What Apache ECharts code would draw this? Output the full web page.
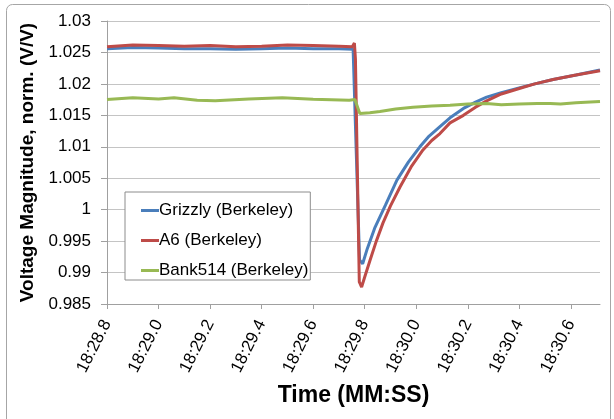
<!DOCTYPE html>
<html>
<head>
<meta charset="utf-8">
<script src="https://cdn.jsdelivr.net/npm/echarts@6/dist/echarts.min.js"></script>
<style>html,body{margin:0;padding:0;background:#fff}#c{width:614px;height:419px}</style>
</head>
<body>
<div id="c"></div>
<script>
// time in seconds after 18:28.0
const seriesNames = ['Grizzly (Berkeley)', 'A6 (Berkeley)', 'Bank514 (Berkeley)'];
const xTicks = [0.8, 1.0, 1.2, 1.4, 1.6, 1.8, 2.0, 2.2, 2.4, 2.6];
const yTicks = [0.985, 0.99, 0.995, 1, 1.005, 1.01, 1.015, 1.02, 1.025, 1.03];

const grizzlyT = [0.80, 0.90, 1.00, 1.10, 1.20, 1.30, 1.40, 1.50, 1.60, 1.70, 1.755, 1.762, 1.780, 1.792, 1.81, 1.84, 1.88, 1.925, 1.97, 2.014, 2.05, 2.092, 2.131, 2.183, 2.23, 2.273, 2.33, 2.403, 2.46, 2.531, 2.62, 2.713];
const grizzlyV = [1.0256, 1.0258, 1.0257, 1.0256, 1.0256, 1.0255, 1.0256, 1.0257, 1.0256, 1.0256, 1.0255, 1.0254, 0.9920, 0.9914, 0.9938, 0.9972, 1.0007, 1.0047, 1.0076, 1.0100, 1.0117, 1.0132, 1.0146, 1.0161, 1.0171, 1.0179, 1.0186, 1.0194, 1.0200, 1.0207, 1.0214, 1.0222];

const a6T = [0.80, 0.90, 1.00, 1.10, 1.20, 1.30, 1.40, 1.50, 1.60, 1.70, 1.752, 1.760, 1.764, 1.779, 1.788, 1.80, 1.821, 1.845, 1.871, 1.90, 1.937, 1.98, 2.026, 2.06, 2.092, 2.131, 2.183, 2.23, 2.273, 2.33, 2.403, 2.46, 2.531, 2.62, 2.713];
const a6V = [1.0259, 1.0262, 1.0261, 1.0260, 1.0261, 1.0259, 1.0260, 1.0262, 1.0261, 1.0260, 1.0259, 1.0265, 1.0240, 0.9885, 0.9877, 0.9893, 0.9920, 0.9950, 0.9979, 1.0006, 1.0036, 1.0068, 1.0095, 1.0110, 1.0121, 1.0138, 1.0150, 1.0163, 1.0173, 1.0184, 1.0193, 1.0200, 1.0207, 1.0214, 1.0221];

const bankT = [0.80, 0.90, 1.00, 1.06, 1.15, 1.22, 1.35, 1.48, 1.60, 1.74, 1.762, 1.781, 1.82, 1.859, 1.92, 1.987, 2.06, 2.131, 2.20, 2.273, 2.33, 2.40, 2.47, 2.52, 2.56, 2.62, 2.713];
const bankV = [1.0175, 1.0178, 1.0176, 1.0178, 1.0174, 1.0173, 1.0176, 1.0178, 1.01755, 1.0174, 1.0175, 1.0153, 1.0154, 1.0156, 1.0160, 1.0163, 1.0165, 1.0166, 1.0168, 1.0169, 1.0167, 1.0168, 1.0169, 1.0169, 1.0168, 1.0170, 1.0172];

const colors = ['#4a7ebb', '#be4b48', '#98b954'];
const zip = (t, v) => t.map((x, i) => [x, v[i]]);
const dataSets = [zip(grizzlyT, grizzlyV), zip(a6T, a6V), zip(bankT, bankV)];

const chart = echarts.init(document.getElementById('c'), null, {renderer: 'canvas'});
const FONT = '"Liberation Sans", Arial, sans-serif';
chart.setOption({
  animation: false,
  backgroundColor: '#fff',
  graphic: [{
    type: 'rect', shape: {x: 6.5, y: 4.5, width: 604, height: 430, r: 6},
    style: {fill: 'none', stroke: '#a6a6a6', lineWidth: 1}, z: 0, silent: true
  }],
  grid: {left: 107, right: 14, top: 21, bottom: 115, containLabel: false},
  xAxis: {
    type: 'value', min: 0.8, max: 2.713,
    name: 'Time (MM:SS)', nameLocation: 'middle', nameGap: 80,
    nameTextStyle: {fontFamily: FONT, fontWeight: 'bold', fontSize: 23, color: '#000'},
    axisLine: {show: true, lineStyle: {color: '#a0a0a0', width: 1}},
    axisTick: {show: true, length: 5, customValues: xTicks, lineStyle: {color: '#a0a0a0'}},
    splitLine: {show: false},
    axisLabel: {
      customValues: xTicks, rotate: 63, margin: 17, fontFamily: FONT, fontSize: 17, color: '#000',
      formatter: v => '18:' + (28 + v).toFixed(1)
    }
  },
  yAxis: {
    type: 'value', min: 0.985, max: 1.03, interval: 0.005,
    name: 'Voltage Magnitude, norm. (V/V)', nameLocation: 'middle', nameGap: 62,
    nameTextStyle: {fontFamily: FONT, fontWeight: 'bold', fontSize: 19, color: '#000'},
    axisLine: {show: true, lineStyle: {color: '#a0a0a0', width: 1}},
    axisTick: {show: true, length: 6, lineStyle: {color: '#a0a0a0'}},
    splitLine: {show: true, lineStyle: {color: '#c4c4c4', width: 1}},
    axisLabel: {
      margin: 16, fontFamily: FONT, fontSize: 17, color: '#000',
      formatter: v => String(parseFloat(v.toFixed(3)))
    }
  },
  legend: {
    orient: 'vertical', left: 125, top: 192,
    data: seriesNames,
    backgroundColor: '#fff', borderColor: '#8c8c8c', borderWidth: 1,
    padding: [10, 2, 1, 16], itemGap: 13, itemWidth: 18, itemHeight: 3,
    icon: 'rect',
    textStyle: {fontFamily: FONT, fontSize: 17, color: '#000', padding: [0, 0, 0, -5]}
  },
  series: dataSets.map((d, i) => ({
    name: seriesNames[i], type: 'line', data: d, showSymbol: false, symbol: 'none',
    lineStyle: {color: colors[i], width: 3}, itemStyle: {color: colors[i]}, z: 2 + i
  }))
});
</script>
</body>
</html>
